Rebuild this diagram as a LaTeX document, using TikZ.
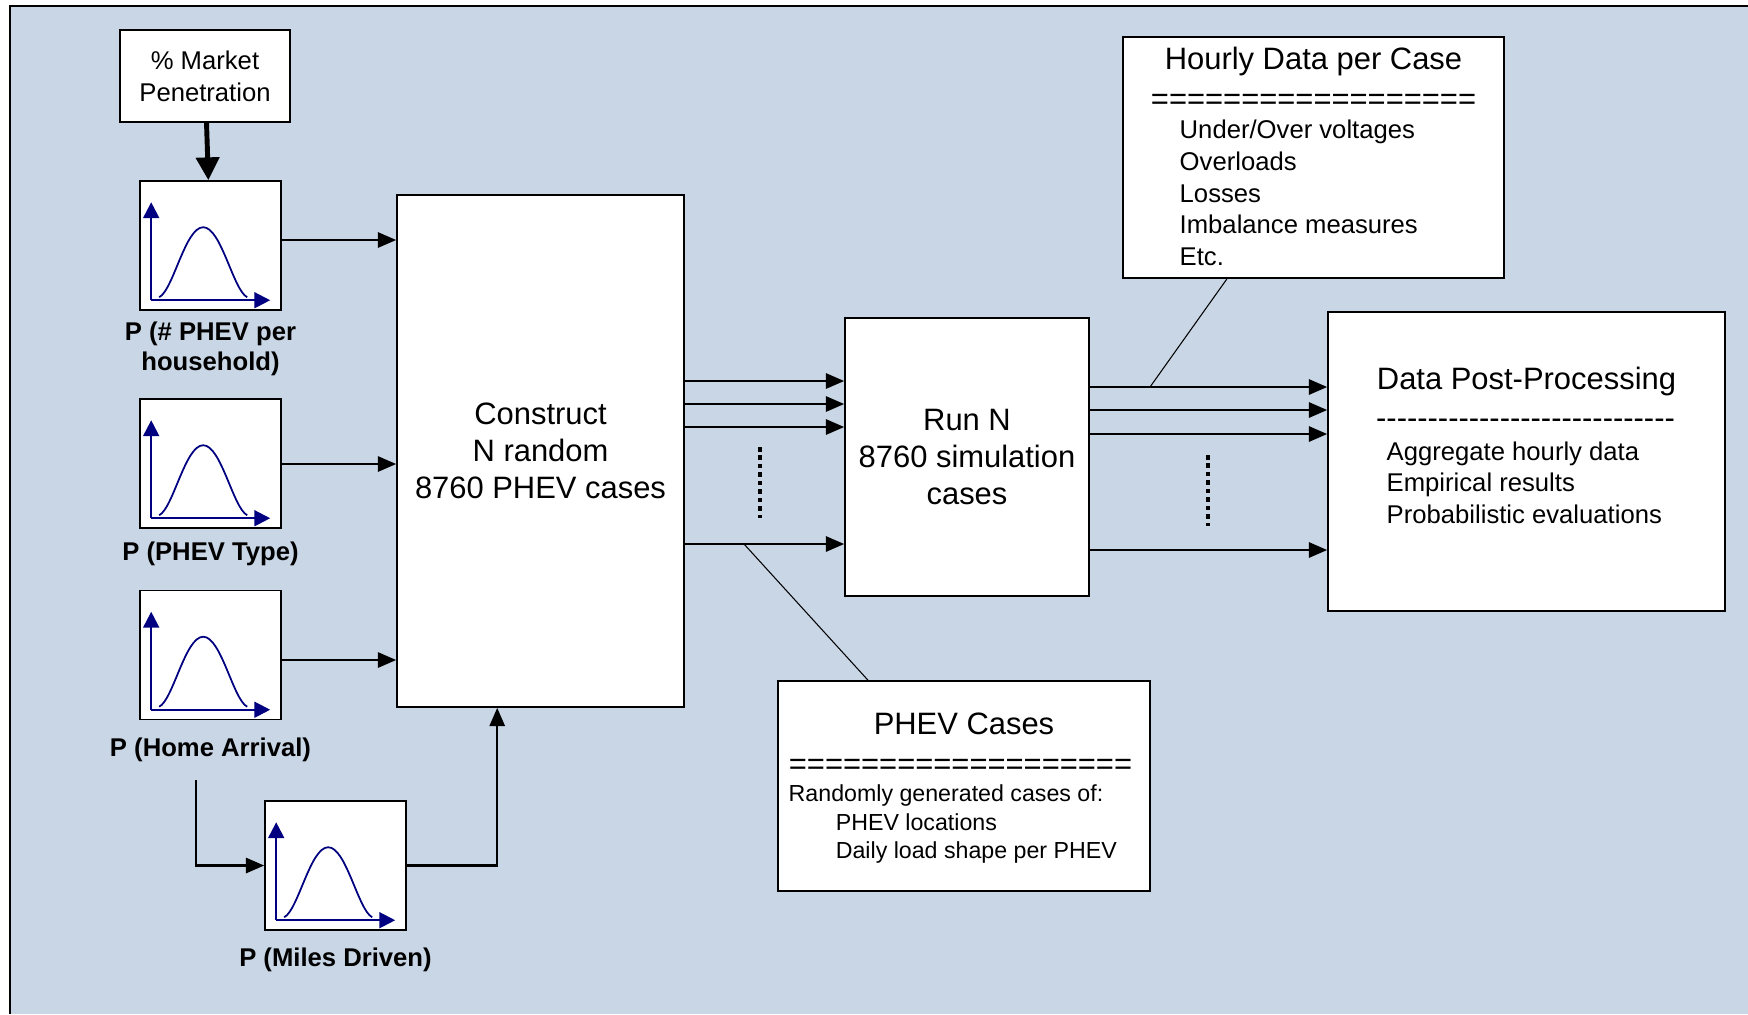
\documentclass[tikz,border=0pt]{standalone}
\usepackage{fontspec}
\setmainfont{Liberation Sans}
\usetikzlibrary{arrows.meta,positioning,calc}

\definecolor{bgpanel}{RGB}{201,214,229}
\definecolor{curvenavy}{RGB}{0,0,128}

\newcommand\fnttitle{\fontsize{8.8pt}{10.6pt}\selectfont}
\newcommand\fntitem{\fontsize{7.3pt}{9pt}\selectfont}
\newcommand\fntsmall{\fontsize{6.6pt}{8.1pt}\selectfont}
\newcommand\fntlabel{\fontsize{7.3pt}{8.6pt}\selectfont}

% axes and bell curve inside a distribution box
\newcommand\bellplot[1]{%
  \begin{scope}[shift={(#1.north west)}]
    \draw[axis] (12,120) -- (12,22);
    \draw[axis] (12,120) -- (131,120);
    \draw[bell] (20,117) .. controls (34,110) and (46,47) .. (64,47)
      .. controls (82,47) and (94,110) .. (108,117);
  \end{scope}}

\begin{document}
\begin{tikzpicture}[x=0.1mm,y=-0.1mm,
  box/.style={draw=black,fill=white,line width=0.45pt,inner sep=0pt},
  pdfbox/.style={box,minimum width=14.1mm,minimum height=12.9mm},
  plab/.style={font=\fntlabel\bfseries,align=center,inner sep=0pt},
  arr/.style={line width=0.7pt,-{Triangle[length=5.2pt,width=4.3pt]}},
  thickarr/.style={line width=1.4pt,-{Triangle[length=6.5pt,width=6.5pt]}},
  callout/.style={line width=0.3pt},
  dots/.style={line width=1pt,dash pattern=on 1.3pt off 1.1pt},
  axis/.style={draw=curvenavy,line width=0.6pt,-{Triangle[length=4.5pt,width=4.5pt]}},
  bell/.style={draw=curvenavy,line width=0.5pt}]
\useasboundingbox (0,0) rectangle (1748,1014);
\fill[white] (0,0) rectangle (1748,1014);
\fill[bgpanel] (10,6) rectangle (1748,1014);
\draw[line width=0.6pt] (10,1014) -- (10,6) -- (1748,6);

% inputs
\node[box,minimum width=17mm,minimum height=9.2mm,align=center,font=\fntitem] (market) at (205,76) {\% Market\\Penetration};
\node[pdfbox] (pdf1) at (210.5,245.5) {};
\node[pdfbox] (pdf2) at (210.5,463.5) {};
\node[pdfbox] (pdf3) at (210.5,655) {};
\node[pdfbox] (pdf4) at (335.5,865.5) {};
\bellplot{pdf1}
\bellplot{pdf2}
\bellplot{pdf3}
\bellplot{pdf4}
\node[plab,below=3pt of pdf1] (lab1) {P (\# PHEV per\\household)};
\node[plab,below=3.5pt of pdf2] (lab2) {P (PHEV Type)};
\node[plab,below=4.8pt of pdf3] (lab3) {P (Home Arrival)};
\node[plab,below=4.8pt of pdf4] (lab4) {P (Miles Driven)};

% main blocks
\node[box,minimum width=28.7mm,minimum height=51.2mm,align=center,font=\fnttitle] (construct) at (540.5,451) {Construct\\N random\\8760 PHEV cases};
\node[box,minimum width=24.4mm,minimum height=27.8mm,align=center,font=\fnttitle] (run) at (967,457) {Run N\\8760 simulation\\cases};
\node[box,minimum width=39.7mm,minimum height=29.9mm] (post) at (1526.5,461.5) {};
\node[font=\fnttitle] (posthead) at (1526.5,381) {Data Post-Processing};
\node[font=\fnttitle] (postrule) at (1525.5,424) {-{}-{}-{}-{}-{}-{}-{}-{}-{}-{}-{}-{}-{}-{}-{}-{}-{}-{}-{}-{}-{}-{}-{}-{}-{}-{}-{}-{}-};
\node[font=\fntitem,align=left,anchor=west,inner sep=0pt] (postlist) at (1386,482.5) {Aggregate hourly data\\Empirical results\\Probabilistic evaluations};

% notes
\node[box,minimum width=38.1mm,minimum height=24.1mm] (hourly) at (1313.5,157.5) {};
\node[font=\fnttitle] (hourlyhead) at (1313.5,61) {Hourly Data per Case};
\node[font=\fnttitle] (hourlyrule) at (1313.5,102) {==================};
\node[font=\fntitem,align=left,anchor=west,inner sep=0pt] (hourlylist) at (1179,193) {Under/Over voltages\\Overloads\\Losses\\Imbalance measures\\Etc.};
\node[box,minimum width=37.2mm,minimum height=21mm] (cases) at (964,786) {};
\node[font=\fnttitle] (caseshead) at (964,724) {PHEV Cases};
\node[font=\fnttitle] (casesrule) at (960.5,767) {===================};
\node[font=\fntsmall,align=left,anchor=west,inner sep=0pt] (caseslist) at (788,824) {Randomly generated cases of:\\\hspace*{13.4pt}PHEV locations\\\hspace*{13.4pt}Daily load shape per PHEV};

% connectors
\draw[thickarr] (market) -- (pdf1);
\draw[arr] (pdf1.east |- 0,240) -- (construct.west |- 0,240);
\draw[arr] (pdf2.east |- 0,464) -- (construct.west |- 0,464);
\draw[arr] (pdf3.east |- 0,660) -- (construct.west |- 0,660);
\coordinate (forkstart) at (196,780);
\draw[arr] (forkstart) |- (pdf4.west);
\draw[arr] (pdf4.east) -| ($(construct.south west)!0.35!(construct.south east)$);
\foreach \y in {381,404,427,544}
  \draw[arr] (construct.east |- 0,\y) -- (run.west |- 0,\y);
\foreach \y in {387,410,434,550}
  \draw[arr] (run.east |- 0,\y) -- (post.west |- 0,\y);
\draw[dots] (760,447) -- (760,518);
\draw[dots] (1208,455) -- (1208,526);
\coordinate (casestap) at (744,544);
\coordinate (hourlytap) at (1150,387);
\draw[callout] (casestap) -- (cases.north -| 868,0);
\draw[callout] (hourlytap) -- (hourly.south -| 1227,0);
\end{tikzpicture}
\end{document}
